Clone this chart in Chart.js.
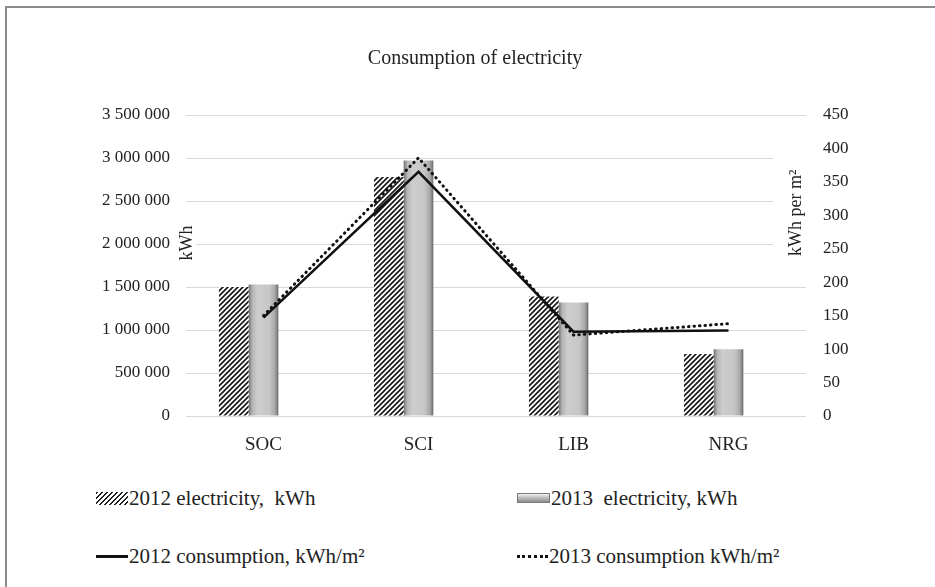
<!DOCTYPE html>
<html>
<head>
<meta charset="utf-8">
<title>Consumption of electricity</title>
<script src="https://cdn.jsdelivr.net/npm/chart.js@4.4.1/dist/chart.umd.min.js"></script>
<style>
  body { margin: 0; background: #fff; width: 935px; height: 587px; overflow: hidden; position: relative; font-family: 'Liberation Serif', 'Times New Roman', serif; }
  .frame { position: absolute; left: 5px; top: 6px; width: 960px; height: 600px; border-left: 2px solid #8c8c8c; border-top: 2px solid #8c8c8c; }
  #chart { position: absolute; left: 0; top: 0; }
  .item { position: absolute; display: flex; align-items: center; font-family: 'Liberation Serif', 'Times New Roman', serif; font-size: 21px; color: #222; white-space: pre; }
  .sw { display: inline-block; margin-right: 1px; flex: none; }
  .sw.hatch { width: 32px; height: 13px; background: repeating-linear-gradient(135deg, #222 0 1.6px, #fff 1.6px 3.6px); }
  .sw.steel { width: 31px; height: 8px; background: linear-gradient(#f0f0f0, #c4c4c4 40%, #8a8a8a); border: 1px solid #7a7a7a; }
  .sw.solid { width: 32px; height: 3px; background: #111; }
  .sw.dots { width: 31px; height: 0; border-top: 3px dotted #111; }
</style>
</head>
<body>
<div class="frame"></div>
<canvas id="chart" width="935" height="460"></canvas>
<div id="legend"></div>
<script>
// values
const categories = ['SOC', 'SCI', 'LIB', 'NRG'];
const elec2012 = [1500000, 2780000, 1390000, 720000];
const elec2013 = [1530000, 2970000, 1320000, 775000];
const cons2012 = [147, 365, 126, 128];
const cons2013 = [150, 386, 121, 138];
const spacer = [null, null, null, null];

const seriesLabels = [
  '2012 electricity,  kWh',
  '2013  electricity, kWh',
  '2012 consumption, kWh/m\u00b2',
  '2013 consumption kWh/m\u00b2'
];

const CAT_PCT = 0.575;
const FONT = "'Liberation Serif', 'Times New Roman', serif";

// diagonal hatch for the 2012 bars
function makeHatch() {
  const c = document.createElement('canvas');
  c.width = 5; c.height = 5;
  const g = c.getContext('2d');
  g.fillStyle = '#fff';
  g.fillRect(0, 0, 5, 5);
  g.strokeStyle = '#1a1a1a';
  g.lineWidth = 1.7;
  g.beginPath();
  g.moveTo(-1, 6); g.lineTo(6, -1);
  g.moveTo(-1, 1); g.lineTo(1, -1);
  g.moveTo(4, 6); g.lineTo(6, 4);
  g.stroke();
  return g.createPattern(c, 'repeat');
}

// shaded grey fill for the 2013 bars (horizontal bevel)
function steelFill(context) {
  const chart = context.chart;
  const x = chart.scales.x;
  if (!x || context.dataIndex === undefined || !chart.chartArea) return '#c4c4c4';
  const cat = (x.right - x.left) / categories.length;
  const group = cat * CAT_PCT;
  const slot = group / 3;
  const left = x.getPixelForValue(context.dataIndex) - group / 2 + slot;
  const g = chart.ctx.createLinearGradient(left, 0, left + slot, 0);
  g.addColorStop(0, '#6f6f6f');
  g.addColorStop(0.12, '#b5b5b5');
  g.addColorStop(0.3, '#cdcdcd');
  g.addColorStop(0.7, '#c6c6c6');
  g.addColorStop(0.88, '#a8a8a8');
  g.addColorStop(1, '#6a6a6a');
  return g;
}

function spaced(v) {
  return String(v).replace(/\B(?=(\d{3})+(?!\d))/g, ' ');
}

// axis titles sit inside the plot area on white boxes
const axisTitles = {
  id: 'axisTitles',
  beforeDatasetsDraw(chart) {
    const { ctx, chartArea } = chart;
    const h = chartArea.bottom - chartArea.top;
    ctx.save();
    ctx.font = '18px ' + FONT;
    ctx.fillStyle = '#fff';
    ctx.fillRect(chartArea.left - 8, chartArea.top + 0.34 * h, 18, 46);
    ctx.fillRect(chartArea.right - 33, chartArea.top + 0.12 * h, 33, 120);
    ctx.fillStyle = '#222';
    ctx.textAlign = 'center';
    ctx.textBaseline = 'middle';
    ctx.translate(chartArea.left + 1, chartArea.top + 0.425 * h);
    ctx.rotate(-Math.PI / 2);
    ctx.fillText('kWh', 0, 0);
    ctx.restore();

    ctx.save();
    ctx.font = '18px ' + FONT;
    ctx.fillStyle = '#222';
    ctx.textAlign = 'center';
    ctx.textBaseline = 'middle';
    ctx.translate(chartArea.right - 10, chartArea.top + 0.325 * h);
    ctx.rotate(-Math.PI / 2);
    ctx.fillText('kWh per m\u00b2', 0, 0);
    ctx.restore();
  }
};

const chart = new Chart(document.getElementById('chart'), {
  type: 'bar',
  data: {
    labels: categories,
    datasets: [
      {
        label: seriesLabels[2],
        type: 'line',
        data: cons2012,
        yAxisID: 'y1',
        borderColor: '#111',
        borderWidth: 2.5,
        pointRadius: 0,
        tension: 0,
        order: 0
      },
      {
        label: seriesLabels[3],
        type: 'line',
        data: cons2013,
        yAxisID: 'y1',
        borderColor: '#111',
        borderWidth: 3,
        borderDash: [0.5, 5],
        borderCapStyle: 'round',
        pointRadius: 0,
        tension: 0,
        order: 0
      },
      {
        label: seriesLabels[0],
        data: elec2012,
        yAxisID: 'y',
        backgroundColor: makeHatch(),
        order: 1
      },
      {
        label: seriesLabels[1],
        data: elec2013,
        yAxisID: 'y',
        backgroundColor: steelFill,
        order: 1
      },
      {
        label: 'spacer',
        data: spacer,
        yAxisID: 'y',
        order: 1
      }
    ]
  },
  options: {
    responsive: false,
    animation: false,
    barPercentage: 1,
    categoryPercentage: CAT_PCT,
    layout: { padding: { left: 15, right: 0, top: 0, bottom: 0 } },
    plugins: {
      legend: { display: false },
      tooltip: { enabled: false },
      title: {
        display: true,
        text: 'Consumption of electricity',
        color: '#222',
        font: { family: FONT, size: 20, weight: 'normal' },
        padding: { top: 47, bottom: 44 }
      }
    },
    scales: {
      x: {
        grid: { display: false },
        border: { display: false },
        ticks: { color: '#222', font: { family: FONT, size: 19 }, padding: 10 },
        afterFit(scale) { scale.height = 44; }
      },
      y: {
        position: 'left',
        min: 0,
        max: 3500000,
        grid: { color: '#d9d9d9', drawTicks: false },
        border: { display: false },
        ticks: {
          stepSize: 500000,
          color: '#222',
          font: { family: FONT, size: 17 },
          padding: 16,
          callback: v => spaced(v)
        },
        afterFit(scale) { scale.width = 171; }
      },
      y1: {
        position: 'right',
        min: 0,
        max: 450,
        grid: { display: false, drawTicks: false },
        border: { display: false },
        ticks: { stepSize: 50, color: '#222', font: { family: FONT, size: 17 }, padding: 17 },
        afterFit(scale) { scale.width = 129; }
      }
    }
  },
  plugins: [axisTitles]
});

// two-column legend under the chart
const legendItems = [
  { text: seriesLabels[0], sw: 'hatch', x: 96, y: 498 },
  { text: seriesLabels[1], sw: 'steel', x: 517, y: 498 },
  { text: seriesLabels[2], sw: 'solid', x: 96, y: 556 },
  { text: seriesLabels[3], sw: 'dots', x: 517, y: 556 }
];
const legend = document.getElementById('legend');
legendItems.forEach(it => {
  const d = document.createElement('div');
  d.className = 'item';
  d.style.left = it.x + 'px';
  d.style.top = (it.y - 12) + 'px';
  d.style.height = '24px';
  const s = document.createElement('span');
  s.className = 'sw ' + it.sw;
  const t = document.createElement('span');
  t.textContent = it.text;
  d.appendChild(s);
  d.appendChild(t);
  legend.appendChild(d);
});
</script>
</body>
</html>
